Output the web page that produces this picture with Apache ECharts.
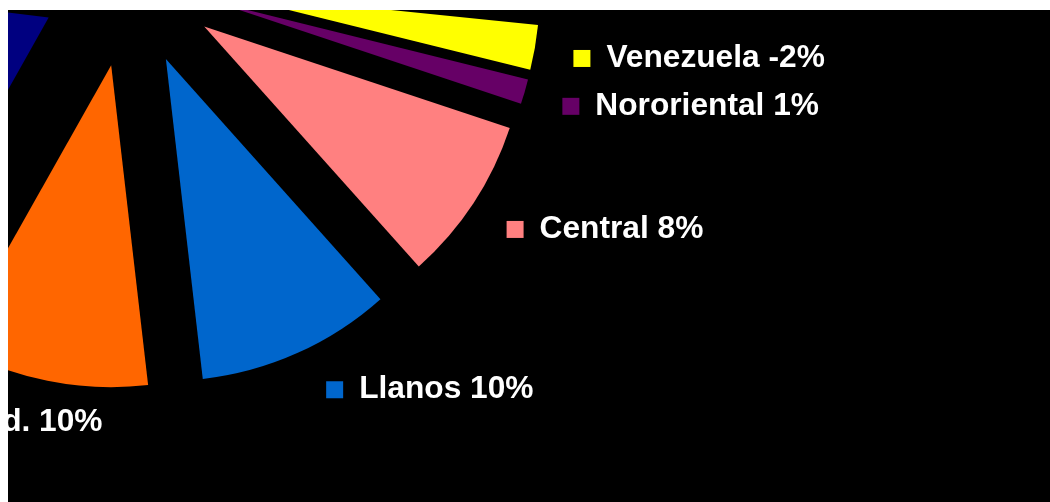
<!DOCTYPE html>
<html><head><meta charset="utf-8">
<script src="https://cdn.jsdelivr.net/npm/echarts@6/dist/echarts.min.js"></script>
<style>
html,body{margin:0;padding:0;background:#fff;width:1050px;height:502px;overflow:hidden}
#c{position:absolute;left:8px;top:10px;width:1042px;height:492px;background:#000}
</style></head><body><div id="c"></div>
<script>
// Data (slice sizes estimated from the visible angles)
const regions = ['Venezuela', 'Nororiental', 'Central', 'Llanos', 'Centro Occid.', 'Otra región', 'Resto'];
const sliceValues = [2.25, 1.25, 8.28, 9.78, 10.0, 18.77, 49.67];
const growthLabels = ['-2%', '1%', '8%', '10%', '10%', '', ''];
const sliceColors = ['#FFFF00', '#660066', '#FF8080', '#0066CC', '#FF6600', '#000080', '#333399'];
const labelVisible = [true, true, true, true, true, false, false];

const chart = echarts.init(document.getElementById('c'), null, {renderer: 'canvas'});

const data = regions.map((name, i) => ({
  name: name,
  value: sliceValues[i],
  selected: true,
  itemStyle: {color: sliceColors[i]},
  label: {
    show: labelVisible[i],
    formatter: '{sq|}{t|' + name + ' ' + growthLabels[i] + '}',
    rich: {
      sq: {width: 17, height: 17, backgroundColor: sliceColors[i]},
      t: {fontSize: 31.7, fontWeight: 'bold', color: '#FFFFFF',
          fontFamily: '"Liberation Sans", Arial, sans-serif', padding: [0, 0, 0, 16]}
    }
  }
}));

// small label nudges (dx, dy) per slice, to match the original label placement
const labelNudge = [[-1, 5], [-1, 5], [-1, 7], [9, 5], [67, 7], [0, 0], [0, 0]];

chart.setOption({
  backgroundColor: '#000000',
  animation: false,
  series: [{
    type: 'pie',
    center: [121, -33],
    radius: 322,
    startAngle: -5.8,
    clockwise: true,
    selectedMode: 'multiple',
    selectedOffset: 90,
    avoidLabelOverlap: false,
    itemStyle: {borderWidth: 0},
    select: {itemStyle: {borderWidth: 0}},
    emphasis: {disabled: true},
    label: {position: 'outside'},
    labelLine: {show: false, length: 35, length2: 0},
    labelLayout: function (p) {
      const n = labelNudge[p.dataIndex] || [0, 0];
      return {dx: n[0], dy: n[1]};
    },
    data: data
  }]
});
</script></body></html>
